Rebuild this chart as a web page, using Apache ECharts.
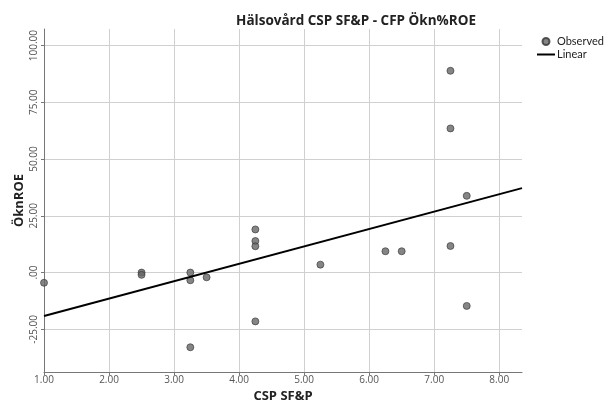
<!DOCTYPE html>
<html>
<head>
<meta charset="utf-8">
<script src="https://cdn.jsdelivr.net/npm/echarts@6/dist/echarts.min.js"></script>
<style>
html, body { margin: 0; padding: 0; background: #fff; }
#main { width: 605px; height: 402px; }
</style>
</head>
<body>
<div id="main"></div>
<script>
// observed points
var cspX = [1.00, 2.50, 2.50, 3.25, 3.25, 3.25, 3.50, 4.25, 4.25, 4.25, 4.25, 5.25, 6.25, 6.50, 7.25, 7.25, 7.25, 7.50, 7.50];
var oknRoe = [-4.5, 0.0, -1.0, 0.0, -3.4, -32.9, -2.1, 19.0, 13.9, 11.6, -21.5, 3.5, 9.4, 9.4, 88.9, 63.5, 11.7, 33.8, -14.7];

// fitted line end points
var linearX = [1.00, 8.35];
var linearY = [-19.1, 37.2];

var xTicks = [1, 2, 3, 4, 5, 6, 7, 8];
var yTicks = [-25, 0, 25, 50, 75, 100];

var observed = cspX.map(function (x, i) { return [x, oknRoe[i]]; });
var linear = linearX.map(function (x, i) { return [x, linearY[i]]; });

var fmt = function (v) {
	if (v === 0) return '.00';
	return v.toFixed(2);
};

var myChart = echarts.init(document.getElementById('main'));

myChart.setOption({
	animation: false,
	textStyle: { fontFamily: 'Open Sans' },

	title: {
		text: 'Hälsovård CSP SF&P - CFP Ökn%ROE',
		left: 351,
		textAlign: 'center',
		top: 9,
		textStyle: { fontSize: 13.5, fontWeight: 'bold', color: '#222', fontFamily: 'Open Sans' }
	},

	legend: {
		orient: 'vertical',
		left: 532,
		top: 31,
		itemGap: 2,
		itemWidth: 18,
		itemHeight: 7,
		textStyle: { fontSize: 11, color: '#222', fontFamily: 'Lato', padding: [0, 0, 0, -3] },
		data: [
			{ name: 'Observed', icon: 'circle' },
			{ name: 'Linear', icon: 'path://M0,4 L18,4 L18,6 L0,6 Z' }
		]
	},

	grid: {
		left: 44,
		top: 29,
		right: 83,
		bottom: 30,
		outerBoundsMode: 'none'
	},

	xAxis: {
		type: 'value',
		min: 1,
		max: 8.35,
		name: 'CSP SF&P',
		nameLocation: 'middle',
		nameGap: 16,
		nameTextStyle: { fontSize: 13, fontWeight: 'bold', color: '#222' },
		axisLine: { onZero: false, lineStyle: { color: '#777' } },
		axisTick: { show: true, length: 3, customValues: xTicks, lineStyle: { color: '#777' } },
		axisLabel: { fontSize: 10, color: '#555', margin: 3, customValues: xTicks, formatter: fmt },
		splitLine: { lineStyle: { color: '#d0d0d0' } }
	},

	yAxis: {
		type: 'value',
		min: -43.8,
		max: 107.3,
		name: 'ÖknROE',
		nameLocation: 'middle',
		nameGap: 18,
		nameMoveOverlap: false,
		nameTextStyle: { fontSize: 13, fontWeight: 'bold', color: '#222' },
		axisLine: { show: true, onZero: false, lineStyle: { color: '#777' } },
		axisTick: { show: true, length: 3, customValues: yTicks, lineStyle: { color: '#777' } },
		axisLabel: { fontSize: 10, color: '#555', rotate: 90, margin: 5, customValues: yTicks, formatter: fmt },
		splitLine: { lineStyle: { color: '#d0d0d0' } }
	},

	series: [
		{
			name: 'Observed',
			type: 'scatter',
			symbolSize: 7,
			itemStyle: { color: '#666', borderColor: '#333', borderWidth: 0.8 },
			data: observed
		},
		{
			name: 'Linear',
			type: 'line',
			symbol: 'none',
			lineStyle: { color: '#000', width: 2 },
			itemStyle: { color: '#000' },
			data: linear
		}
	]
});
</script>
</body>
</html>
